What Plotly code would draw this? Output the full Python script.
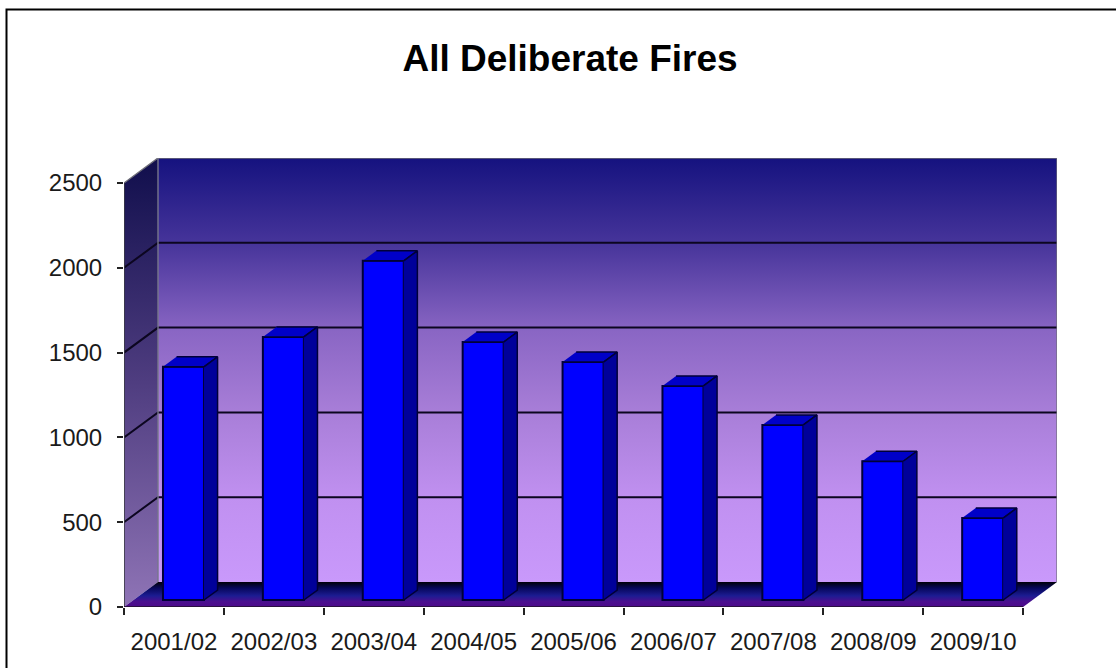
import plotly.graph_objects as go

CATEGORIES = ["2001/02", "2002/03", "2003/04", "2004/05", "2005/06",
              "2006/07", "2007/08", "2008/09", "2009/10"]
VALUES = [1375, 1551, 2000, 1521, 1403, 1262, 1032, 818, 483]
Y_TICKS = [0, 500, 1000, 1500, 2000, 2500]
GRID_VALUES = [500, 1000, 1500, 2000]
TITLE = "All Deliberate Fires"

# Pseudo-3D projection, in axis units
PX_PER_CAT = 99.9
PX_PER_UNIT = 84.8 / 500
DX = 34 / PX_PER_CAT
DY = 25 / PX_PER_UNIT
BAR_W = 41 / PX_PER_CAT
D_FRONT = 0.28
D_BACK = 0.68

L, R, T, B = 124, 59, 158, 61
x_range = [-0.5, -0.5 + 933 / PX_PER_CAT]
y_range = [0, 449 / PX_PER_UNIT]
x_lo, x_hi = -0.5, len(CATEGORIES) - 0.5
y_top = Y_TICKS[-1]

fig = go.Figure()


def poly(xs, ys, color=None, grad=None, line=None, lw=1.0, axes=("x", "y")):
    kw = {}
    if grad:
        kw["fillgradient"] = dict(type="vertical", colorscale=grad[0], start=grad[1], stop=grad[2])
    else:
        kw["fillcolor"] = color
    fig.add_trace(go.Scatter(
        x=xs, y=ys, mode="lines" if line else "none", fill="toself",
        line=dict(color=line, width=lw) if line else None,
        hoverinfo="skip", showlegend=False, xaxis=axes[0], yaxis=axes[1], **kw))


def seg(xs, ys, color, w, axes=("x", "y"), clip=True):
    fig.add_trace(go.Scatter(x=xs, y=ys, mode="lines", line=dict(color=color, width=w),
                             hoverinfo="skip", showlegend=False, xaxis=axes[0], yaxis=axes[1],
                             cliponaxis=clip))


# back wall
poly([x_lo + DX, x_hi + DX, x_hi + DX, x_lo + DX],
     [DY, DY, y_top + DY, y_top + DY],
     grad=([[0, "#c999fb"], [0.2, "#c090f0"], [0.4, "#a87ed8"], [0.59, "#8a66c4"],
            [0.8, "#46349a"], [1, "#15127f"]], DY, y_top + DY))
# side wall
poly([x_lo, x_lo + DX, x_lo + DX, x_lo],
     [0, DY, y_top + DY, y_top],
     grad=([[0, "#8f74b6"], [0.5, "#4f3d80"], [1, "#100e4c"]], 0, y_top + DY))
# floor
poly([x_lo, x_hi, x_hi + DX, x_lo + DX], [0, 0, DY, DY],
     grad=([[0, "#4c0a8a"], [0.22, "#4a0f8e"], [0.45, "#1c1c92"], [0.75, "#07075c"], [1, "#000008"]], 0, DY))
# gridlines
for g in GRID_VALUES:
    seg([x_lo, x_lo + DX, x_hi + DX], [g, g + DY, g + DY], "#0c0620", 2)
# wall edges
seg([x_lo, x_lo + DX, x_hi + DX, x_hi + DX], [y_top, y_top + DY, y_top + DY, DY], "#6e6e78", 1.4)
seg([x_lo + DX, x_lo + DX], [DY, y_top + DY], "#77778a", 1.4)
seg([x_lo, x_lo], [0, y_top], "#3a3a44", 1.6, clip=False)
seg([x_lo, x_hi], [0, 0], "#2a1040", 2, clip=False)

# bars: fronts
xs_front = [i + D_FRONT * DX for i in range(len(CATEGORIES))]
base = D_FRONT * DY
fig.add_trace(go.Bar(x=xs_front, y=VALUES, base=base, width=BAR_W,
                     marker=dict(color="#0000ff", line=dict(color="#000038", width=2)),
                     xaxis="x2", yaxis="y2", showlegend=False, hoverinfo="skip"))
# bars: tops and sides
ddx = (D_BACK - D_FRONT) * DX
ddy = (D_BACK - D_FRONT) * DY
for xc, v in zip(xs_front, VALUES):
    xl, xr = xc - BAR_W / 2, xc + BAR_W / 2
    top = base + v
    poly([xl, xr, xr + ddx, xl + ddx], [top, top, top + ddy, top + ddy],
         color="#0000c8", line="#000038", lw=1.5, axes=("x2", "y2"))
    poly([xr, xr + ddx, xr + ddx, xr], [base, base + ddy, top + ddy, top],
         color="#00009a", line="#000038", lw=1.5, axes=("x2", "y2"))

font = "Liberation Sans, Arial, sans-serif"
fig.update_layout(
    width=1116, height=668, margin=dict(l=L, r=R, t=T, b=B, pad=0),
    paper_bgcolor="white", plot_bgcolor="white", showlegend=False,
    font=dict(family=font, color="#1a1a1a", size=24),
    barmode="overlay",
    title=dict(text="<b>" + TITLE + "</b>", x=570 / 1116, xanchor="center", y=1 - 58 / 668,
               yanchor="middle", font=dict(size=37, family=font, color="#000000")),
    xaxis=dict(range=x_range, tickmode="array", tickvals=list(range(len(CATEGORIES))),
               ticktext=CATEGORIES, ticks="", ticklabelstandoff=18, showgrid=False, zeroline=False,
               showline=False,
               minor=dict(tickmode="array", tickvals=[i - 0.5 for i in range(len(CATEGORIES) + 1)],
                          ticks="outside", ticklen=7, tickwidth=1.5, tickcolor="#222222", showgrid=False)),
    yaxis=dict(range=y_range, tickmode="array", tickvals=Y_TICKS, ticks="outside", ticklen=6,
               tickwidth=1.5, tickcolor="#222222", showgrid=False, zeroline=False, showline=False,
               ticklabelstandoff=10),
    xaxis2=dict(range=x_range, overlaying="x", visible=False),
    yaxis2=dict(range=y_range, overlaying="y", visible=False),
    shapes=[dict(type="rect", xref="paper", yref="paper", x0=(6.5 - L) / 933, x1=(1130 - L) / 933,
                 y0=(607 - 690) / 449, y1=(607 - 9.5) / 449, line=dict(color="black", width=2),
                 fillcolor="rgba(0,0,0,0)", layer="above")],
)
fig.write_html("out.html", post_script="document.body.style.margin='0';",
               config={"displayModeBar": False})
